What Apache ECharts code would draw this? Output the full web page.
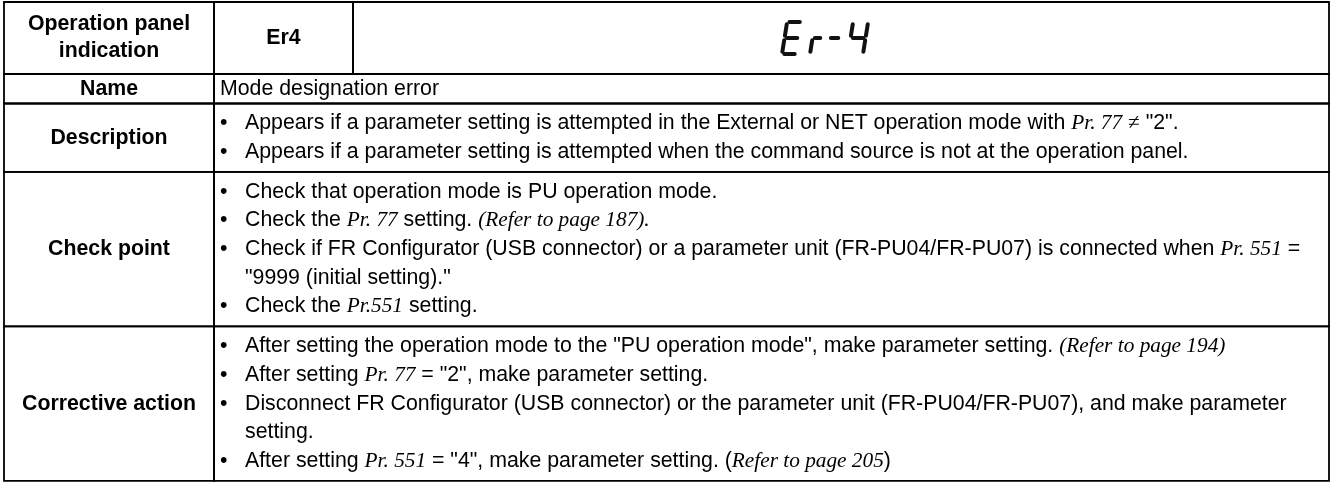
<!DOCTYPE html>
<html><head><meta charset="utf-8">
<script src="https://cdn.jsdelivr.net/npm/echarts@6/dist/echarts.min.js"></script>
<style>html,body{margin:0;padding:0;background:#fff}#c{width:1337px;height:483px}</style>
</head><body><div id="c"></div>
<script>
// ---------------- content ----------------
const rowLabels = [['Operation panel', 'indication'], ['Name'], ['Description'], ['Check point'], ['Corrective action']];
const indicationCode = 'Er4';
const displayChars = ['E', 'r', '-', '4'];
const nameLines = ['Mode designation error'];
const descriptionLines = [
  '• Appears if a parameter setting is attempted in the External or NET operation mode with {i|Pr. 77} {s|≠} "2".',
  '• Appears if a parameter setting is attempted when the command source is not at the operation panel.'
];
const checkPointLines = [
  '• Check that operation mode is PU operation mode.',
  '• Check the {i|Pr. 77} setting. {i|(Refer to page 187).}',
  '• Check if FR Configurator (USB connector) or a parameter unit (FR-PU04/FR-PU07) is connected when {i|Pr. 551} =',
  '"9999 (initial setting)."',
  '• Check the {i|Pr.551} setting.'
];
const correctiveLines = [
  '• After setting the operation mode to the "PU operation mode", make parameter setting. {i|(Refer to page 194)}',
  '• After setting {i|Pr. 77} = "2", make parameter setting.',
  '• Disconnect FR Configurator (USB connector) or the parameter unit (FR-PU04/FR-PU07), and make parameter',
  'setting.',
  '• After setting {i|Pr. 551} = "4", make parameter setting. ({i|Refer to page 205})'
];
const rowContents = [[], nameLines, descriptionLines, checkPointLines, correctiveLines];

// ---------------- layout / style ----------------
const SANS = '"Liberation Sans", Arial, Helvetica, sans-serif';
const SERIF = '"Liberation Serif", "Times New Roman", serif';
const FS = 21.3;
const L = {left: 4, c1: 214, c2: 353, right: 1329, top: 2, headerH: 72, pitch: 28.7,
           rowPad: [0, 0.8, 11, 11, 11], bulletX: 220, textX: 245, labelPitch: 27, border: 1.8};
const bounds = [L.top];
rowContents.forEach((lines, i) => {
  const h = i === 0 ? L.headerH : lines.length * L.pitch + L.rowPad[i];
  bounds.push(bounds[i] + h);
});
const rich = {
  i: {fontFamily: SERIF, fontStyle: 'italic', fontSize: FS, fill: '#000', lineHeight: 26},
  s: {fontFamily: SERIF, fontSize: FS, fill: '#000', lineHeight: 26}
};
const SEG = {E: 'adefg', r: 'eg', '-': 'g', '4': 'bcfg'};
const DISP = {slots: [782, 810, 826, 848], widths: [15, 10, 12, 15], h: 32, gap: 2.3, slant: 0.16, lw: 4};

function tableItem(params, api) {
  const i = api.value(0);
  const top = bounds[i], bot = bounds[i + 1];
  const P = (x, y) => api.coord([x, y]);
  const ch = [];
  const cell = (x0, x1) => {
    const a = P(x0, top), b = P(x1, bot);
    ch.push({type: 'rect', shape: {x: a[0], y: a[1], width: b[0] - a[0], height: b[1] - a[1]},
      style: {fill: 'none', stroke: '#000', lineWidth: L.border}});
  };
  cell(L.left, L.c1);
  if (i === 0) { cell(L.c1, L.c2); cell(L.c2, L.right); } else { cell(L.c1, L.right); }
  const mid = (top + bot) / 2;
  const labs = rowLabels[i];
  labs.forEach((t, k) => {
    const pt = P((L.left + L.c1) / 2, mid + (k - (labs.length - 1) / 2) * L.labelPitch);
    ch.push({type: 'text', x: pt[0], y: pt[1], z2: 5, style: {text: t, fontFamily: SANS, fontWeight: 'bold',
      fontSize: FS, fill: '#000', align: 'center', verticalAlign: 'middle'}});
  });
  if (i === 0) {
    const pt = P((L.c1 + L.c2) / 2, mid);
    ch.push({type: 'text', x: pt[0], y: pt[1], z2: 5, style: {text: indicationCode, fontFamily: SANS, fontWeight: 'bold',
      fontSize: FS, fill: '#000', align: 'center', verticalAlign: 'middle'}});
  }
  const lines = rowContents[i];
  const bulleted = lines.some(s => s.startsWith('• '));
  lines.forEach((s, k) => {
    const y = top + L.rowPad[i] / 2 + L.pitch * (k + 0.5);
    let txt = s, x = bulleted ? L.textX : L.bulletX;
    if (s.startsWith('• ')) {
      txt = s.slice(2);
      const pb = P(L.bulletX, y);
      ch.push({type: 'text', x: pb[0], y: pb[1], z2: 5, style: {text: '•', fontFamily: SANS, fontSize: FS,
        fill: '#000', align: 'left', verticalAlign: 'middle'}});
    }
    const pt = P(x, y);
    ch.push({type: 'text', x: pt[0], y: pt[1], z2: 5, style: {text: txt, rich: rich, fontFamily: SANS, fontSize: FS,
      fill: '#000', align: 'left', verticalAlign: 'middle', lineHeight: 26}});
  });
  return {type: 'group', children: ch};
}

function displayItem(params, api) {
  const i = api.value(0);
  const c = displayChars[i];
  const mid = (bounds[0] + bounds[1]) / 2;
  const gx = DISP.slots[i], gy = mid - DISP.h / 2;
  const w = DISP.widths[i], h = DISP.h, hf = h / 2, g = DISP.gap;
  const segs = {
    a: [[g, 0], [w - g, 0]], b: [[w, g], [w, hf - g]], c: [[w, hf + g], [w, h - g]],
    d: [[g, h], [w - g, h]], e: [[0, hf + g], [0, h - g]], f: [[0, g], [0, hf - g]], g: [[g, hf], [w - g, hf]]
  };
  const ch = [];
  SEG[c].split('').forEach(k => {
    const [p0, p1] = segs[k];
    const q0 = api.coord([gx + p0[0] + (h - p0[1]) * DISP.slant, gy + p0[1]]);
    const q1 = api.coord([gx + p1[0] + (h - p1[1]) * DISP.slant, gy + p1[1]]);
    ch.push({type: 'line', shape: {x1: q0[0], y1: q0[1], x2: q1[0], y2: q1[1]},
      style: {stroke: '#111', lineWidth: DISP.lw, lineCap: 'round'}});
  });
  return {type: 'group', children: ch};
}

const chart = echarts.init(document.getElementById('c'), null, {renderer: 'canvas'});
chart.setOption({
  animation: false,
  backgroundColor: '#fff',
  grid: {left: 0, right: 0, top: 0, bottom: 0},
  xAxis: {type: 'value', min: 0, max: 1337, show: false},
  yAxis: {type: 'value', min: 0, max: 483, inverse: true, show: false},
  series: [
    {type: 'custom', renderItem: tableItem, data: rowLabels.map((_, i) => [i]), silent: true},
    {type: 'custom', renderItem: displayItem, data: displayChars.map((_, i) => [i]), silent: true}
  ]
});
</script></body></html>
